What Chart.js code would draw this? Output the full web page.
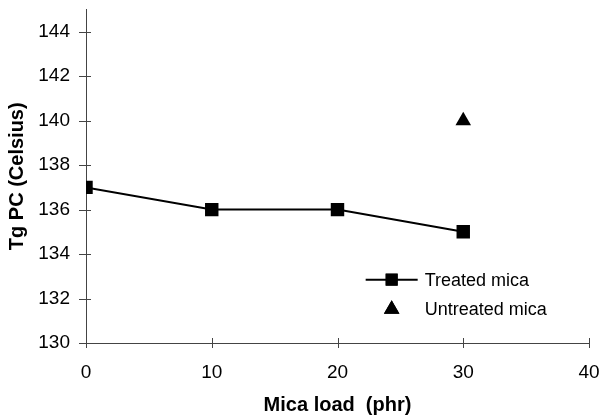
<!DOCTYPE html>
<html>
<head>
<meta charset="utf-8">
<script src="https://cdn.jsdelivr.net/npm/chart.js@4/dist/chart.umd.min.js"></script>
<style>
  html, body { margin: 0; padding: 0; background: #fff; }
  #wrap { width: 600px; height: 417px; }
</style>
</head>
<body>
<div id="wrap"><canvas id="tgChart"></canvas></div>
<script>
const micaLoad = [0, 10, 20, 30];
const treatedTg = [137, 136, 136, 135];
const untreatedLoad = [30];
const untreatedTg = [140];
const xTickValues = [0, 10, 20, 30, 40];
const yTickValues = [130, 132, 134, 136, 138, 140, 142, 144];

const FONT = "'Liberation Sans', Arial, sans-serif";
const ctx = document.getElementById("tgChart").getContext("2d");

// small tick marks crossing both axes, like the original
const crossTicks = {
  id: "crossTicks",
  afterDraw(chart) {
    const c = chart.ctx;
    const x = chart.scales.x, y = chart.scales.y;
    const area = chart.chartArea;
    c.save();
    c.strokeStyle = "#444";
    c.lineWidth = 1;
    c.beginPath();
    y.ticks.forEach(t => {
      const py = Math.round(y.getPixelForValue(t.value)) + 0.5;
      c.moveTo(area.left - 7, py);
      c.lineTo(area.left + 5, py);
    });
    x.ticks.forEach(t => {
      const px = Math.round(x.getPixelForValue(t.value)) + 0.5;
      c.moveTo(px, area.bottom - 5);
      c.lineTo(px, area.bottom + 5);
    });
    c.stroke();
    c.restore();
  }
};

// legend drawn inside the plot area, lower right
const innerLegend = {
  id: "innerLegend",
  afterDraw(chart) {
    const c = chart.ctx;
    const area = chart.chartArea;
    const lx = area.left + (area.right - area.left) * 0.556;
    const rowY = [area.top + (area.bottom - area.top) * 0.81, area.top + (area.bottom - area.top) * 0.899];
    c.save();
    chart.data.datasets.forEach((ds, i) => {
      const yy = rowY[i];
      const mx = lx + 26;
      if (ds.showLine) {
        c.strokeStyle = ds.borderColor;
        c.lineWidth = ds.borderWidth;
        c.beginPath();
        c.moveTo(lx, yy);
        c.lineTo(lx + 52, yy);
        c.stroke();
      }
      Chart.helpers.drawPoint(c, {
        pointStyle: ds.pointStyle,
        radius: ds.pointStyle === "rect" ? 8.5 : 9,
        borderWidth: 0
      }, mx, yy);
      c.fillStyle = ds.pointBackgroundColor;
      c.fill();
      c.fillStyle = "#000";
      c.font = "18px " + FONT;
      c.textBaseline = "middle";
      c.fillText(ds.label, lx + 59, yy + 1);
    });
    c.restore();
  }
};

new Chart(ctx, {
  type: "line",
  data: {
    datasets: [
      {
        label: "Treated mica",
        data: micaLoad.map((v, i) => ({ x: v, y: treatedTg[i] })),
        borderColor: "#000",
        backgroundColor: "#000",
        pointBackgroundColor: "#000",
        borderWidth: 2,
        showLine: true,
        pointStyle: "rect",
        pointRadius: 9.5,
        pointBorderWidth: 0,
        tension: 0
      },
      {
        label: "Untreated mica",
        data: untreatedLoad.map((v, i) => ({ x: v, y: untreatedTg[i] })),
        borderColor: "#000",
        backgroundColor: "#000",
        pointBackgroundColor: "#000",
        borderWidth: 0,
        showLine: false,
        pointStyle: "triangle",
        pointRadius: 9,
        pointBorderWidth: 0
      }
    ]
  },
  options: {
    responsive: true,
    maintainAspectRatio: false,
    animation: false,
    layout: { padding: { top: 5, right: 11, left: 0, bottom: 0 } },
    plugins: {
      legend: { display: false },
      tooltip: { enabled: false }
    },
    scales: {
      x: {
        type: "linear",
        min: 0,
        max: 40,
        afterBuildTicks: s => { s.ticks = xTickValues.map(v => ({ value: v })); },
        afterFit: s => { s.height = 74; s.paddingLeft = 0; s.paddingRight = 0; },
        grid: { display: false, drawTicks: false },
        border: { display: true, color: "#444", width: 1 },
        ticks: { color: "#000", padding: 18, font: { family: FONT, size: 19 } },
        title: {
          display: true,
          text: "Mica load  (phr)",
          color: "#000",
          font: { family: FONT, size: 20, weight: "bold" },
          padding: { top: 4, bottom: 0 }
        }
      },
      y: {
        min: 130,
        max: 145,
        afterBuildTicks: s => { s.ticks = yTickValues.map(v => ({ value: v })); },
        afterFit: s => { s.width = 86; s.paddingTop = 0; s.paddingBottom = 0; },
        grid: { display: false, drawTicks: false },
        border: { display: true, color: "#444", width: 1 },
        ticks: { color: "#000", padding: 16, font: { family: FONT, size: 19 } },
        title: {
          display: true,
          text: "Tg PC (Celsius)",
          color: "#000",
          font: { family: FONT, size: 20, weight: "bold" },
          padding: { top: 5, bottom: 0 }
        }
      }
    }
  },
  plugins: [crossTicks, innerLegend]
});
</script>
</body>
</html>
